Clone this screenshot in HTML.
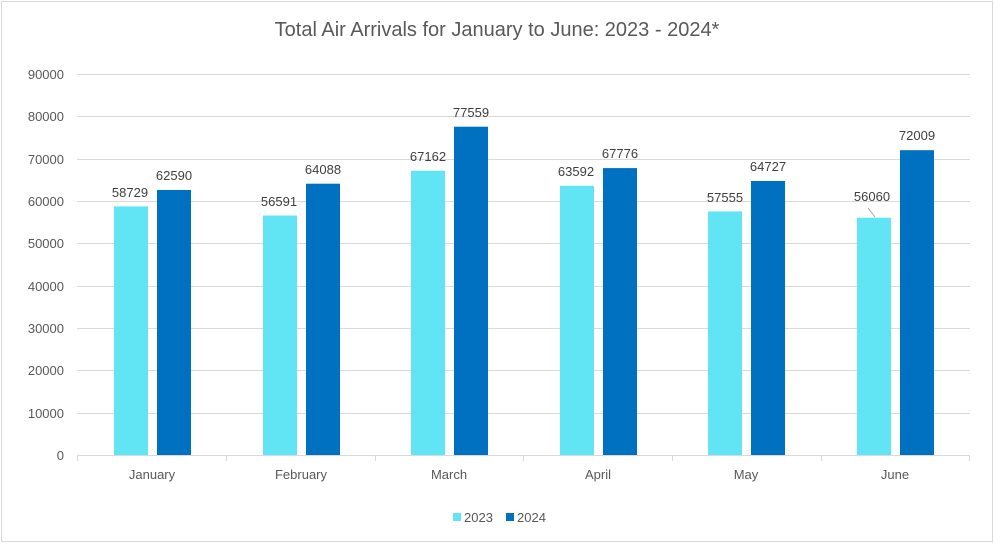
<!DOCTYPE html>
<html><head><style>
body{margin:0;background:#fff;}
svg{display:block;font-family:"Liberation Sans",Calibri,sans-serif;}
</style></head><body>
<svg width="995" height="545" viewBox="0 0 995 545">
<rect x="1.5" y="1.5" width="991" height="540" fill="#fff" stroke="#d9d9d9"/>
<text x="497" y="36" text-anchor="middle" font-size="20" fill="#595959">Total Air Arrivals for January to June: 2023 - 2024*</text>
<g stroke="#d9d9d9" stroke-width="1">
<line x1="77" x2="970" y1="74.5" y2="74.5"/>
<line x1="77" x2="970" y1="116.5" y2="116.5"/>
<line x1="77" x2="970" y1="159.5" y2="159.5"/>
<line x1="77" x2="970" y1="201.5" y2="201.5"/>
<line x1="77" x2="970" y1="243.5" y2="243.5"/>
<line x1="77" x2="970" y1="286.5" y2="286.5"/>
<line x1="77" x2="970" y1="328.5" y2="328.5"/>
<line x1="77" x2="970" y1="370.5" y2="370.5"/>
<line x1="77" x2="970" y1="413.5" y2="413.5"/>
<line x1="77" x2="970" y1="455.5" y2="455.5"/>
<line x1="77.5" x2="77.5" y1="455" y2="461"/>
<line x1="226.5" x2="226.5" y1="455" y2="461"/>
<line x1="375.5" x2="375.5" y1="455" y2="461"/>
<line x1="523.5" x2="523.5" y1="455" y2="461"/>
<line x1="672.5" x2="672.5" y1="455" y2="461"/>
<line x1="821.5" x2="821.5" y1="455" y2="461"/>
<line x1="969.5" x2="969.5" y1="455" y2="461"/>
</g>
<g font-size="13" fill="#595959" text-anchor="end">
<text x="64" y="79">90000</text><text x="64" y="121">80000</text><text x="64" y="164">70000</text>
<text x="64" y="206">60000</text><text x="64" y="248">50000</text><text x="64" y="291">40000</text>
<text x="64" y="333">30000</text><text x="64" y="375">20000</text><text x="64" y="418">10000</text>
<text x="64" y="460">0</text>
</g>
<g id="bars"></g>
<g font-size="13" fill="#595959" text-anchor="middle">
<text x="152" y="479">January</text><text x="301" y="479">February</text><text x="449" y="479">March</text>
<text x="598" y="479">April</text><text x="746" y="479">May</text><text x="895" y="479">June</text>
</g>
<g>
<rect x="114" y="206.4" width="34" height="248.6" fill="#61e5f5"/><rect x="157" y="190.0" width="34" height="265" fill="#0070c0"/>
<rect x="263" y="215.5" width="34" height="239.5" fill="#61e5f5"/><rect x="306" y="183.7" width="34" height="271.3" fill="#0070c0"/>
<rect x="411" y="170.7" width="34" height="284.3" fill="#61e5f5"/><rect x="454" y="126.7" width="34" height="328.3" fill="#0070c0"/>
<rect x="560" y="185.8" width="34" height="269.2" fill="#61e5f5"/><rect x="603" y="168.1" width="34" height="286.9" fill="#0070c0"/>
<rect x="708" y="211.4" width="34" height="243.6" fill="#61e5f5"/><rect x="751" y="181.0" width="34" height="274" fill="#0070c0"/>
<rect x="857" y="217.7" width="34" height="237.3" fill="#61e5f5"/><rect x="900" y="150.2" width="34" height="304.8" fill="#0070c0"/>
</g>
<line x1="868" y1="208" x2="875" y2="217" stroke="#a6a6a6"/>
<g font-size="13" fill="#404040" text-anchor="middle">
<text x="130" y="197">58729</text><text x="174" y="180">62590</text>
<text x="279" y="206">56591</text><text x="323" y="174">64088</text>
<text x="428" y="161">67162</text><text x="471" y="117">77559</text>
<text x="576" y="176">63592</text><text x="620" y="158">67776</text>
<text x="725" y="202">57555</text><text x="768" y="171">64727</text>
<text x="872" y="201">56060</text><text x="917" y="140">72009</text>
</g>
<rect x="453" y="513" width="8" height="8" fill="#61e5f5"/>
<text x="464" y="522" font-size="13" fill="#595959">2023</text>
<rect x="506" y="513" width="8" height="8" fill="#0070c0"/>
<text x="517" y="522" font-size="13" fill="#595959">2024</text>
</svg>
</body></html>
